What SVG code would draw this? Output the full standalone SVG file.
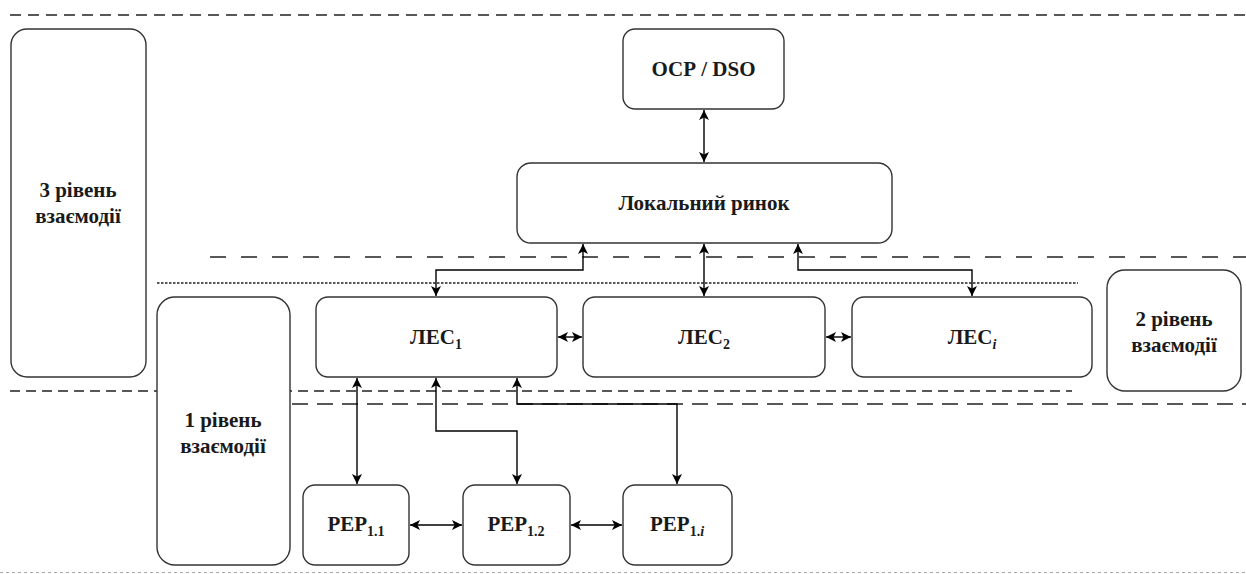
<svg xmlns="http://www.w3.org/2000/svg" width="1246" height="574" viewBox="0 0 1246 574">
<style>
.box{fill:#fff;stroke:#333;stroke-width:1.4}
.t{font-weight:bold;font-size:21px;fill:#1a1a1a;text-anchor:middle}
.sub{font-size:14px}
.c{fill:none;stroke:#000;stroke-width:1.4}
.sep{fill:none;stroke:#222;stroke-width:1.3}
</style>
<defs>
<marker id="ah" viewBox="0 0 10 10" refX="10" refY="5" markerWidth="10" markerHeight="10" markerUnits="userSpaceOnUse" orient="auto-start-reverse">
<path d="M0,0 L10,5 L0,10 L2.5,5 Z" fill="#000"/>
</marker>
</defs>
<g id="separators">
<line class="sep" x1="10" y1="15" x2="1246" y2="15" stroke-dasharray="11 7"/>
<line class="sep" x1="210" y1="257" x2="1246" y2="257" stroke-dasharray="16 15"/>
<line class="sep" x1="157" y1="283" x2="1078" y2="283" stroke-dasharray="2.5 1.5" stroke-width="1"/>
<line class="sep" x1="10" y1="391" x2="1072" y2="391" stroke-dasharray="10 6"/>
<line class="sep" x1="292" y1="404" x2="1246" y2="404" stroke-dasharray="16 9"/>
<line x1="0" y1="572.5" x2="1246" y2="572.5" stroke="#aaa" stroke-width="1" stroke-dasharray="3 3"/>
</g>
<g font-family="'Liberation Serif', 'DejaVu Serif', 'Times New Roman', serif">
<g id="level3">
<rect class="box" x="11" y="29" width="135" height="348" rx="16"/>
<text class="t" x="78" y="197">3 рівень</text>
<text class="t" x="78" y="223">взаємодії</text>
</g>
<g id="dso">
<rect class="box" x="623" y="29" width="161" height="80" rx="12"/>
<text class="t" x="703.5" y="76">ОСР / DSO</text>
</g>
<g id="local-market">
<rect class="box" x="517" y="163" width="375" height="80" rx="14"/>
<text class="t" x="704" y="210">Локальний ринок</text>
</g>
<g id="les1">
<rect class="box" x="316" y="297" width="241" height="80" rx="12"/>
<text class="t" x="436" y="344">ЛЕС<tspan class="sub" dy="5">1</tspan></text>
</g>
<g id="les2">
<rect class="box" x="583" y="297" width="242" height="80" rx="12"/>
<text class="t" x="704" y="344">ЛЕС<tspan class="sub" dy="5">2</tspan></text>
</g>
<g id="lesi">
<rect class="box" x="852" y="297" width="240" height="80" rx="12"/>
<text class="t" x="972" y="344">ЛЕС<tspan class="sub" dy="5" font-style="italic">i</tspan></text>
</g>
<g id="level2">
<rect class="box" x="1107" y="270" width="134" height="121" rx="18"/>
<text class="t" x="1174" y="326">2 рівень</text>
<text class="t" x="1174" y="352">взаємодії</text>
</g>
<g id="level1">
<rect class="box" x="157" y="297" width="133" height="268" rx="18"/>
<text class="t" x="223" y="427">1 рівень</text>
<text class="t" x="223" y="453">взаємодії</text>
</g>
<g id="pep11">
<rect class="box" x="303" y="485" width="106" height="80" rx="12"/>
<text class="t" x="356" y="531">РЕР<tspan class="sub" dy="5">1.1</tspan></text>
</g>
<g id="pep12">
<rect class="box" x="463" y="485" width="107" height="80" rx="12"/>
<text class="t" x="516" y="531">РЕР<tspan class="sub" dy="5">1.2</tspan></text>
</g>
<g id="pep1i">
<rect class="box" x="623" y="485" width="109" height="80" rx="12"/>
<text class="t" x="677" y="531">РЕР<tspan class="sub" dy="5">1.<tspan font-style="italic">i</tspan></tspan></text>
</g>
</g>
<g id="connectors">
<path class="c" d="M704,110 V162" marker-start="url(#ah)" marker-end="url(#ah)"/>
<path class="c" d="M583,244 V270 H436 V296" marker-start="url(#ah)" marker-end="url(#ah)"/>
<path class="c" d="M704,244 V296" marker-start="url(#ah)" marker-end="url(#ah)"/>
<path class="c" d="M798,244 V270 H972 V296" marker-start="url(#ah)" marker-end="url(#ah)"/>
<path class="c" d="M558,337 H582" marker-start="url(#ah)" marker-end="url(#ah)"/>
<path class="c" d="M826,337 H851" marker-start="url(#ah)" marker-end="url(#ah)"/>
<path class="c" d="M357,378 V484" marker-start="url(#ah)" marker-end="url(#ah)"/>
<path class="c" d="M436,378 V431 H517 V484" marker-start="url(#ah)" marker-end="url(#ah)"/>
<path class="c" d="M517,378 V404 H677 V484" marker-start="url(#ah)" marker-end="url(#ah)"/>
<path class="c" d="M410,525 H462" marker-start="url(#ah)" marker-end="url(#ah)"/>
<path class="c" d="M571,525 H622" marker-start="url(#ah)" marker-end="url(#ah)"/>
</g>
</svg>
